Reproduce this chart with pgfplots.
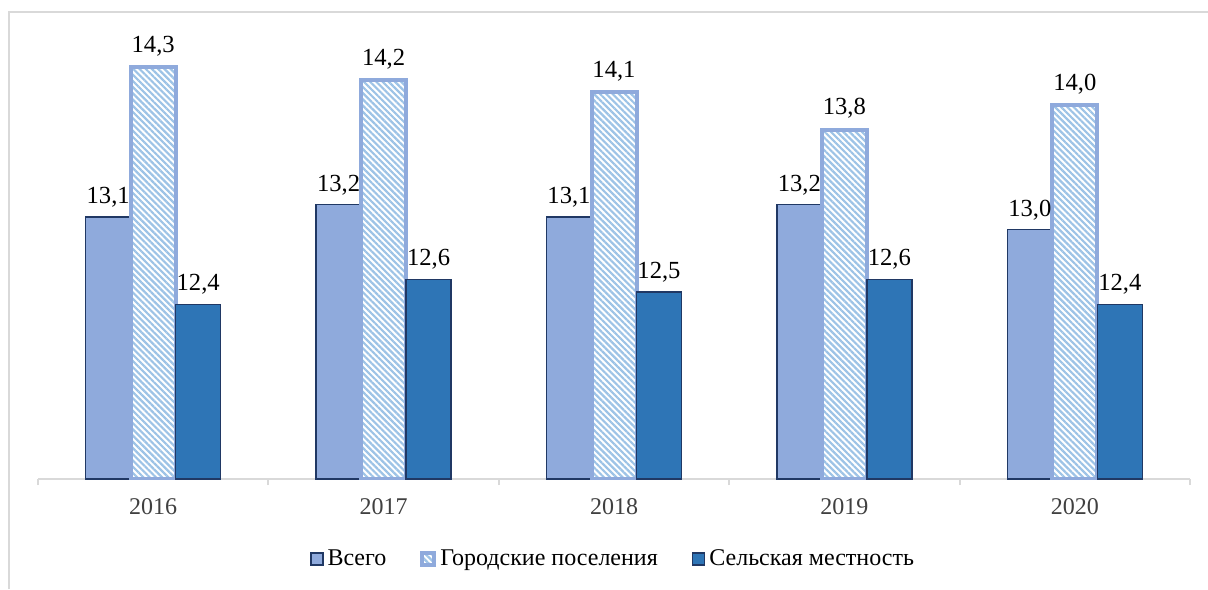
\documentclass[border=0pt]{standalone}
\usepackage{fontspec}
\setmainfont{Liberation Serif}
\newfontfamily\lserif{Liberation Serif}
\usepackage{pgfplots}
\pgfplotsset{compat=1.18}
\usetikzlibrary{patterns.meta}
\definecolor{vsego}{HTML}{8FAADC}
\definecolor{navy}{HTML}{203864}
\definecolor{selo}{HTML}{2E75B6}
\definecolor{stripe}{HTML}{9DC3E6}
\definecolor{gridgray}{HTML}{D9D9D9}
\definecolor{ticktext}{HTML}{404040}
\newcommand{\lblfont}{\lserif\fontsize{12}{14}\selectfont}
\newcommand{\datfont}{\lserif\fontsize{12.3}{14}\selectfont}
\begin{document}
\begin{tikzpicture}
\useasboundingbox (0,0) rectangle (604pt,294.5pt);
\draw[gridgray, line width=1pt] (4.5pt,0) -- (4.5pt,288.5pt) -- (604pt,288.5pt);
\begin{axis}[at={(19pt,55pt)}, anchor=south west, scale only axis,
  width=576pt, height=224.5pt,
  ymin=11, ymax=14.6, xmin=-0.5, xmax=4.5,
  axis x line=bottom, axis y line=none,
  x axis line style={gridgray, line width=1pt, -},
  xtick={0,1,2,3,4}, xticklabels={2016,2017,2018,2019,2020},
  major tick length=0pt,
  extra x ticks={-0.5,0.5,1.5,2.5,3.5,4.5}, extra x tick labels={},
  extra x tick style={tick style={gridgray, line width=1pt}, major tick length=3pt, tick align=outside},
  xticklabel style={font=\lblfont, text=ticktext, inner sep=0pt, anchor=north, yshift=-9.5pt},
  ybar=0pt, bar width=22.5pt,
  nodes near coords={\datfont\pgfmathprintnumber[fixed, fixed zerofill, precision=1, use comma, assume math mode=true]{\pgfplotspointmeta}},
  nodes near coords style={font=\datfont, text=black, inner sep=0pt, anchor=south, yshift=4.5pt},
  legend columns=3,
  legend style={draw=none, at={(0.5,-0.178)}, anchor=center, font=\lblfont,
    /tikz/every even column/.append style={column sep=15pt}},
  legend image code/.code={\draw[#1] (0pt,-3pt) rectangle (6pt,3pt);},
]
\addplot[fill=vsego, draw=navy, line width=0.75pt] coordinates {(0,13.1) (1,13.2) (2,13.1) (3,13.2) (4,13.0)};
\addplot[draw=vsego, line width=2pt, pattern={Lines[angle=-45, distance=2.2pt, line width=1.1pt]}, pattern color=stripe] coordinates {(0,14.3) (1,14.2) (2,14.1) (3,13.8) (4,14.0)};
\addplot[fill=selo, draw=navy, line width=0.75pt] coordinates {(0,12.4) (1,12.6) (2,12.5) (3,12.6) (4,12.4)};
\legend{Всего, Городские поселения, Сельская местность}
\end{axis}
\end{tikzpicture}
\end{document}
